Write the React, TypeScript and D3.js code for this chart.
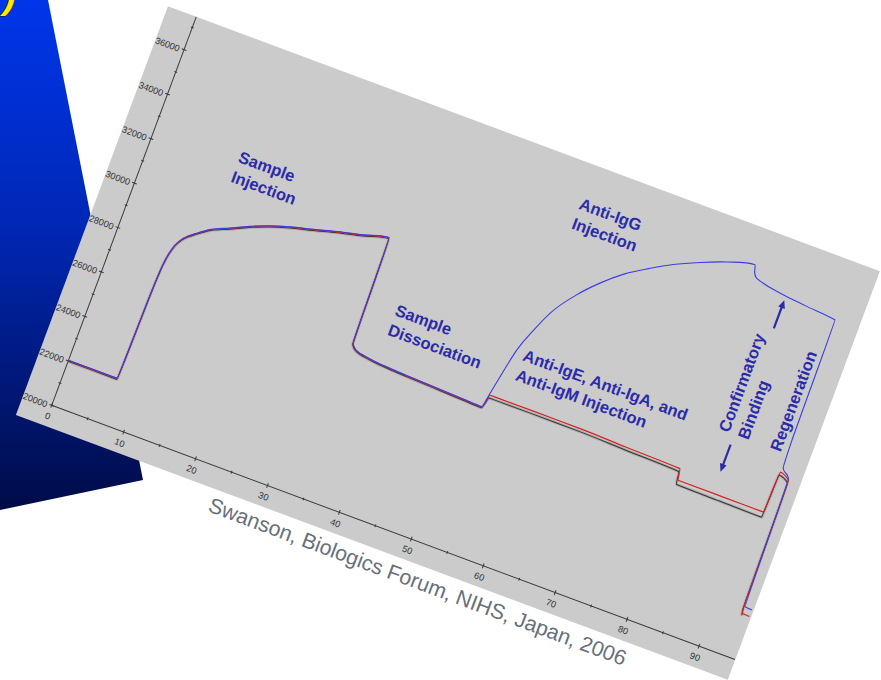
import React from 'react';
import * as d3 from 'd3';

// ---- axis definition (time in s, response in RU) ----
const xDomain = [0, 95];
const yDomain = [20000, 37500];
const xTickValues = [0, 10, 20, 30, 40, 50, 60, 70, 80, 90];
const xMinorTicks = [5, 15, 25, 35, 45, 55, 65, 75, 85];
const yTickValues = [20000, 22000, 24000, 26000, 28000, 30000, 32000, 34000, 36000];
const yMinorTicks = [21000, 23000, 25000, 27000, 29000, 31000, 33000, 35000, 37000];

// ---- sample injection + dissociation (shared by all three sensorgrams) ----
const sampleTime = [0, 6.8, 6.9, 7.0, 7.2, 7.6, 8.2, 9.0, 9.9, 11.5, 13.7, 16, 18.5, 21, 24, 27, 30.3, 33.6, 34.0, 34.4, 35.0, 36, 37.5, 39.5, 42, 46, 50, 52.6];
const sampleRU = [22030, 22030, 23300, 25500, 27200, 27950, 28400, 28700, 28935, 29300, 29622, 29980, 30300, 30560, 30807, 31070, 31320, 31595, 26890, 26720, 26620, 26550, 26490, 26440, 26400, 26350, 26300, 26270];

// ---- blue: anti-IgG injection, confirmatory binding, regeneration ----
const blueTailTime = [53.0, 54.3, 55.5, 56.7, 59, 61.4, 64, 66.9, 69.5, 72.7, 76, 79.5, 79.8, 80.3, 83.9, 87.5, 91.8, 92.0, 92.2, 93.3, 93.85, 94.8];
const blueTailRU = [26920, 29030, 30100, 30970, 32050, 32890, 33620, 34220, 34700, 35180, 35600, 35895, 35600, 35393, 35145, 35020, 34895, 29500, 28270, 27950, 22240, 22210];

// ---- red: anti-IgE / IgA / IgM injection ----
const redTailTime = [53.1, 59, 65.6, 72, 79.6, 79.9, 86, 91.8, 92.0, 93.4, 93.7, 93.85, 94.8];
const redTailRU = [26860, 26870, 26866, 26810, 26753, 26266, 26265, 26262, 28092, 27884, 22150, 21950, 21930];

// ---- black: third sensorgram ----
const blackTailTime = [53.1, 59, 65.6, 72, 79.6, 79.9, 86, 91.8, 92.0, 93.4, 93.7, 93.85];
const blackTailRU = [26770, 26780, 26776, 26720, 26660, 26110, 26085, 26063, 27990, 27800, 22100, 21900];

// ---- annotations (time, RU of text start) ----
const notes = [
  { lines: ['Sample', 'Injection'], t: 11.6, ru: 32357 },
  { lines: ['Sample', 'Dissociation'], t: 37.7, ru: 28607 },
  { lines: ['Anti-IgG', 'Injection'], t: 55.35, ru: 35518 },
  { lines: ['Anti-IgE, Anti-IgA, and', 'Anti-IgM Injection'], t: 55.35, ru: 28704 },
];
const verticalNotes = [
  { text: 'Confirmatory', t: 84.0, ru: 28855 },
  { text: 'Binding', t: 86.66, ru: 28855 },
  { text: 'Regeneration', t: 91.15, ru: 28855 },
];
const arrows = [
  { t: 84.7, from: 28434, to: 27211 },
  { t: 84.7, from: 33663, to: 34928 },
];
const caption = 'Swanson, Biologics Forum, NIHS, Japan, 2006';
const slideTitleFragment = 'y)';

const ANGLE = 20.41;
const ORIGIN = [51.7, 405.3];
const NOTE_COLOR = '#2b2baa';

function zip(t: number[], v: number[]): [number, number][] {
  return t.map((ti, i) => [ti, v[i]] as [number, number]);
}

export default function App() {
  const x = d3.scaleLinear().domain(xDomain).range([0, 729]);
  const y = d3.scaleLinear().domain(yDomain).range([0, -415]);
  const line = d3
    .line<[number, number]>()
    .x((d) => x(d[0]))
    .y((d) => y(d[1]))
    .curve(d3.curveMonotoneX);

  const shared = zip(sampleTime, sampleRU);
  const bluePath = line([...shared, ...zip(blueTailTime, blueTailRU)]) || '';
  const redPath = line([...shared, ...zip(redTailTime, redTailRU)]) || '';
  const blackPath = line([...shared, ...zip(blackTailTime, blackTailRU)]) || '';

  const font = '"Liberation Sans", Arial, sans-serif';
  const x0 = x(xDomain[0]);
  const x1 = x(xDomain[1]);
  const y0 = y(yDomain[0]);
  const y1 = y(yDomain[1]);

  return (
    <svg
      width={881}
      height={680}
      style={{ position: 'absolute', left: 0, top: 0, background: '#ffffff' }}
      fontFamily={font}
    >
      <defs>
        <linearGradient id="slideGrad" x1="0" y1="0" x2="0" y2="1">
          <stop offset="0" stopColor="#0036ea" />
          <stop offset="0.45" stopColor="#0027b4" />
          <stop offset="1" stopColor="#000b46" />
        </linearGradient>
        <clipPath id="panelClip" clipPathUnits="userSpaceOnUse">
          <rect x={-30.2} y={-414.5} width={759.6} height={436} />
        </clipPath>
      </defs>

      {/* slide behind */}
      <polygon points="0,0 48,0 143,480 0,510" fill="url(#slideGrad)" />
      <text
        x={-18}
        y={8}
        fontSize={38}
        fontWeight="bold"
        fontStyle="italic"
        fill="#ffe800"
        stroke="#1a1a1a"
        strokeWidth={1.2}
        paintOrder="stroke"
      >
        {slideTitleFragment}
      </text>

      <g transform={`translate(${ORIGIN[0]},${ORIGIN[1]}) rotate(${ANGLE})`}>
        <rect x={-30.2} y={-414.5} width={759.6} height={436} fill="#cbcbcb" />
        <g clipPath="url(#panelClip)">
          {/* axes */}
          <line x1={x0} y1={y0} x2={x1} y2={y0} stroke="#3a3a3a" strokeWidth={1} />
          <line x1={x0} y1={y0} x2={x0} y2={y1} stroke="#3a3a3a" strokeWidth={1} />
          {xTickValues.map((t) => (
            <g key={'xt' + t}>
              <line x1={x(t)} x2={x(t)} y1={y0 - 2.5} y2={y0 + 2.5} stroke="#3a3a3a" />
              <text x={x(t)} y={y0 + 14.5} fontSize={9.2} textAnchor="middle" fill="#333">
                {t}
              </text>
            </g>
          ))}
          {xMinorTicks.map((t) => (
            <line key={'xm' + t} x1={x(t)} x2={x(t)} y1={y0 - 1.5} y2={y0 + 1.5} stroke="#3a3a3a" />
          ))}
          {yTickValues.map((v) => (
            <g key={'yt' + v}>
              <line x1={x0 - 2.5} x2={x0 + 2.5} y1={y(v)} y2={y(v)} stroke="#3a3a3a" />
              <text x={x0 - 4.5} y={y(v) + 4} fontSize={9.2} textAnchor="end" fill="#333">
                {v}
              </text>
            </g>
          ))}
          {yMinorTicks.map((v) => (
            <line key={'ym' + v} x1={x0 - 1.5} x2={x0 + 1.5} y1={y(v)} y2={y(v)} stroke="#3a3a3a" />
          ))}

          {/* sensorgrams */}
          <path d={blackPath} fill="none" stroke="#8a8a8a" strokeOpacity={0.45} strokeWidth={3} transform="translate(0,1.2)" />
          <path d={blackPath} fill="none" stroke="#333333" strokeWidth={1} transform="translate(0,1.2)" />
          <path d={redPath} fill="none" stroke="#d42222" strokeWidth={1.2} transform="translate(0,0.4)" />
          <path d={bluePath} fill="none" stroke="#3c3ce4" strokeWidth={1.1} />

          {/* annotations */}
          {notes.map((n, i) => (
            <text key={'n' + i} fontSize={16.5} fontWeight="bold" fill={NOTE_COLOR}>
              {n.lines.map((l, j) => (
                <tspan key={j} x={x(n.t)} y={y(n.ru) + j * 21}>
                  {l}
                </tspan>
              ))}
            </text>
          ))}
          {verticalNotes.map((n, i) => (
            <text
              key={'v' + i}
              transform={`translate(${x(n.t)},${y(n.ru)}) rotate(-90)`}
              fontSize={16.5}
              fontWeight="bold"
              fill={NOTE_COLOR}
            >
              {n.text}
            </text>
          ))}
          {arrows.map((a, i) => {
            const ax = x(a.t);
            const ya = y(a.from);
            const yb = y(a.to);
            const dir = yb > ya ? 1 : -1;
            return (
              <g key={'a' + i}>
                <line x1={ax} x2={ax} y1={ya} y2={yb - dir * 7} stroke={NOTE_COLOR} strokeWidth={2.2} />
                <polygon
                  points={`${ax - 3.5},${yb - dir * 8} ${ax + 3.5},${yb - dir * 8} ${ax},${yb}`}
                  fill={NOTE_COLOR}
                />
              </g>
            );
          })}
        </g>
        <text x={182.4} y={44.9} fontSize={21.3} fill="#66707c">
          {caption}
        </text>
      </g>
    </svg>
  );
}
